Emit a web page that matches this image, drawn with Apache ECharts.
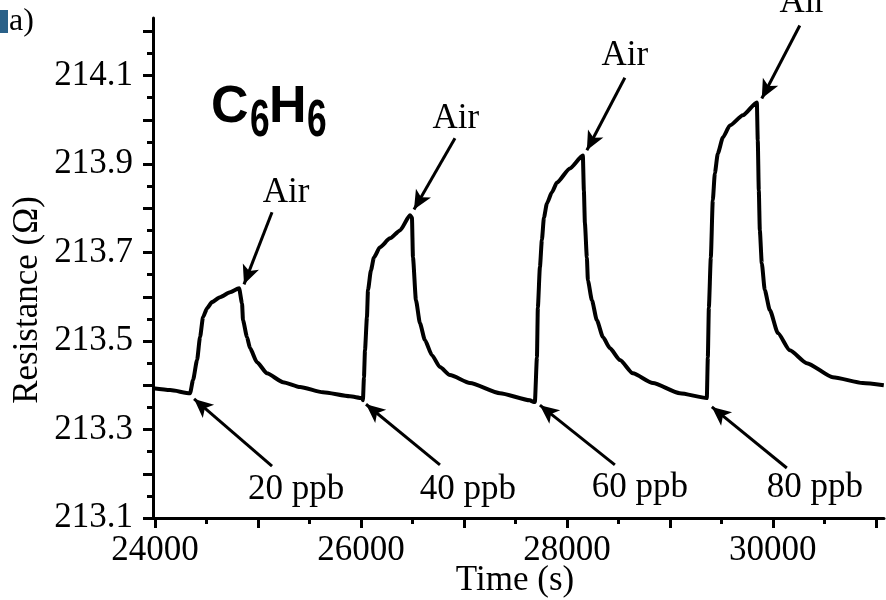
<!DOCTYPE html>
<html>
<head>
<meta charset="utf-8">
<script src="https://cdn.jsdelivr.net/npm/echarts@6/dist/echarts.min.js"></script>
<style>
html,body{margin:0;padding:0;background:#fff;}
#chart{width:886px;height:600px;}
</style>
</head>
<body>
<div id="chart"></div>
<script>
// Time (s)
const times = [
  23980, 24146, 24340, 24369, 24408, 24437, 24466, 24505, 24553, 24631, 24728, 24816,
  24845, 24854, 24893, 24922, 24990, 25087, 25243, 25408, 25631, 25893, 26010,
  26019, 26029, 26039, 26058, 26068, 26097, 26126, 26184, 26282, 26379, 26476,
  26495, 26505, 26534, 26573, 26621, 26689, 26767, 26864, 27058, 27350, 27641, 27680,
  27689, 27709, 27718, 27738, 27757, 27777, 27806, 27854, 27903, 28029, 28155,
  28165, 28175, 28194, 28204, 28243, 28291, 28350, 28417, 28515, 28641, 28835, 29097, 29359,
  29369, 29379, 29398, 29417, 29437, 29466, 29515, 29583, 29709, 29845,
  29854, 29864, 29874, 29893, 29922, 29971, 30049, 30165, 30330, 30583, 30874, 31078
];
// Resistance (Ω)
const resistance = [
  213.393, 213.389, 213.382, 213.412, 213.457, 213.509, 213.554, 213.574, 213.588, 213.599, 213.610, 213.619,
  213.585, 213.547, 213.509, 213.484, 213.452, 213.427, 213.407, 213.396, 213.384, 213.375, 213.371,
  213.366, 213.418, 213.479, 213.554, 213.615, 213.660, 213.689, 213.712, 213.732, 213.750, 213.784,
  213.779, 213.689, 213.592, 213.540, 213.502, 213.468, 213.441, 213.423, 213.405, 213.382, 213.366, 213.362,
  213.362, 213.463, 213.576, 213.667, 213.728, 213.779, 213.811, 213.836, 213.858, 213.890, 213.919,
  213.840, 213.766, 213.689, 213.637, 213.592, 213.547, 213.509, 213.484, 213.457, 213.427, 213.405, 213.382, 213.371,
  213.463, 213.576, 213.689, 213.818, 213.879, 213.924, 213.960, 213.987, 214.010, 214.039,
  213.953, 213.840, 213.750, 213.676, 213.615, 213.570, 213.518, 213.479, 213.450, 213.418, 213.405, 213.400
];

// Axis tick values
const xLabelTicks = [24000, 26000, 28000, 30000];
const xMajorTicks = [24000, 25000, 26000, 27000, 28000, 29000, 30000, 31000];
const xMinorTicks = [24500, 25500, 26500, 27500, 28500, 29500, 30500];
const yLabelTicks = [213.1, 213.3, 213.5, 213.7, 213.9, 214.1];
const yMajorTicks = [213.1, 213.2, 213.3, 213.4, 213.5, 213.6, 213.7, 213.8, 213.9, 214.0, 214.1, 214.2];
const yMinorTicks = [213.15, 213.25, 213.35, 213.45, 213.55, 213.65, 213.75, 213.85, 213.95, 214.05, 214.15];

// Annotations: label text, label position, arrow start, arrow tip (data coords)
const annoLabels = ['Air', 'Air', 'Air', 'Air', '20 ppb', '40 ppb', '60 ppb', '80 ppb'];
const annoTextPos = [[25272, 213.836], [26922, 214.003], [28563, 214.145], [30291, 214.265],
                     [25369, 213.163], [27039, 213.163], [28709, 213.168], [30408, 213.168]];
const arrowFrom = [[25136, 213.791], [26913, 213.958], [28563, 214.095], [30262, 214.213],
                   [25136, 213.217], [26767, 213.220], [28466, 213.220], [30136, 213.213]];
const arrowTo = [[24864, 213.628], [26515, 213.797], [28194, 213.931], [29893, 214.048],
                 [24379, 213.369], [26049, 213.357], [27738, 213.355], [29408, 213.351]];

const X_MIN = 23980, X_MAX = 31080, Y_MIN = 213.1, Y_MAX = 214.23;
const serif = 'Liberation Serif';

const chart = echarts.init(document.getElementById('chart'), null, {renderer: 'canvas'});

const baseAxisText = {fontFamily: serif, fontSize: 35, color: '#000'};

const option = {
  animation: false,
  backgroundColor: '#fff',
  grid: {left: 153, top: 18, right: 2, bottom: 82, containLabel: false, outerBoundsMode: 'none'},
  xAxis: [{
    type: 'value', min: X_MIN, max: X_MAX,
    axisLine: {show: true, onZero: false, lineStyle: {color: '#000', width: 3}},
    axisTick: {show: true, customValues: xMajorTicks, length: 10, lineStyle: {color: '#000', width: 3}},
    axisLabel: {show: true, customValues: xLabelTicks, margin: 15, ...baseAxisText,
      formatter: v => String(Math.round(v))},
    splitLine: {show: false}
  }, {
    type: 'value', min: X_MIN, max: X_MAX, position: 'bottom',
    axisLine: {show: false},
    axisTick: {show: true, customValues: xMinorTicks, length: 6, lineStyle: {color: '#000', width: 3}},
    axisLabel: {show: false},
    splitLine: {show: false}
  }],
  yAxis: [{
    type: 'value', min: Y_MIN, max: Y_MAX,
    axisLine: {show: true, onZero: false, lineStyle: {color: '#000', width: 3}},
    axisTick: {show: true, customValues: yMajorTicks, length: 10, lineStyle: {color: '#000', width: 3}},
    axisLabel: {show: true, customValues: yLabelTicks, margin: 20, ...baseAxisText,
      formatter: v => v.toFixed(1)},
    splitLine: {show: false}
  }, {
    type: 'value', min: Y_MIN, max: Y_MAX, position: 'left',
    axisLine: {show: false},
    axisTick: {show: true, customValues: yMinorTicks, length: 6, lineStyle: {color: '#000', width: 3}},
    axisLabel: {show: false},
    splitLine: {show: false}
  }],
  series: [{
    type: 'line',
    xAxisIndex: 0, yAxisIndex: 0,
    data: times.map((t, i) => [t, resistance[i]]),
    showSymbol: false,
    symbol: 'none',
    smooth: 0.2,
    smoothMonotone: 'x',
    lineStyle: {color: '#000', width: 4, join: 'round'},
    clip: false,
    markLine: {
      silent: true,
      symbol: ['none', 'arrow'],
      symbolSize: [13, 19],
      label: {show: false},
      lineStyle: {color: '#000', width: 3, type: 'solid'},
      data: arrowFrom.map((f, i) => [{coord: f}, {coord: arrowTo[i]}])
    }
  }]
};
chart.setOption(option);

// Text annotations placed through the axis scales
const graphics = [];
annoLabels.forEach((txt, i) => {
  const p = chart.convertToPixel({xAxisIndex: 0, yAxisIndex: 0}, annoTextPos[i]);
  graphics.push({
    type: 'text', x: p[0], y: p[1], z: 10,
    style: {text: txt, fontFamily: serif, fontSize: 35, fill: '#000', align: 'center', verticalAlign: 'middle'}
  });
});
// Axis titles
graphics.push({type: 'text', x: 515, y: 581, z: 10,
  style: {text: 'Time (s)', fontFamily: serif, fontSize: 35, fill: '#000', align: 'center', verticalAlign: 'middle'}});
graphics.push({type: 'text', x: 28, y: 300, rotation: Math.PI / 2, z: 10,
  style: {text: 'Resistance (Ω)', fontFamily: serif, fontSize: 35, fill: '#000', align: 'center', verticalAlign: 'middle'}});
// Panel tag and formula
graphics.push({type: 'rect', left: 0, top: 10, shape: {width: 8, height: 23}, style: {fill: '#2a6189'}});
graphics.push({type: 'text', x: 9, y: 22, style: {text: 'a)', fontFamily: serif, fontSize: 32, fill: '#000', verticalAlign: 'middle'}});
const formulaParts = [
  {t: 'C', x: 211, y: 108, size: 52, sx: 1},
  {t: '6', x: 250, y: 122, size: 52, sx: 0.68},
  {t: 'H', x: 269, y: 108, size: 52, sx: 1},
  {t: '6', x: 307, y: 122, size: 52, sx: 0.68}
];
formulaParts.forEach(f => {
  graphics.push({type: 'text', x: f.x, y: f.y, scaleX: f.sx, z: 10,
    style: {text: f.t, fontFamily: 'Liberation Sans', fontWeight: 'bold', fontSize: f.size, fill: '#000', align: 'left', verticalAlign: 'middle'}});
});
chart.setOption({graphic: graphics});
</script>
</body>
</html>
